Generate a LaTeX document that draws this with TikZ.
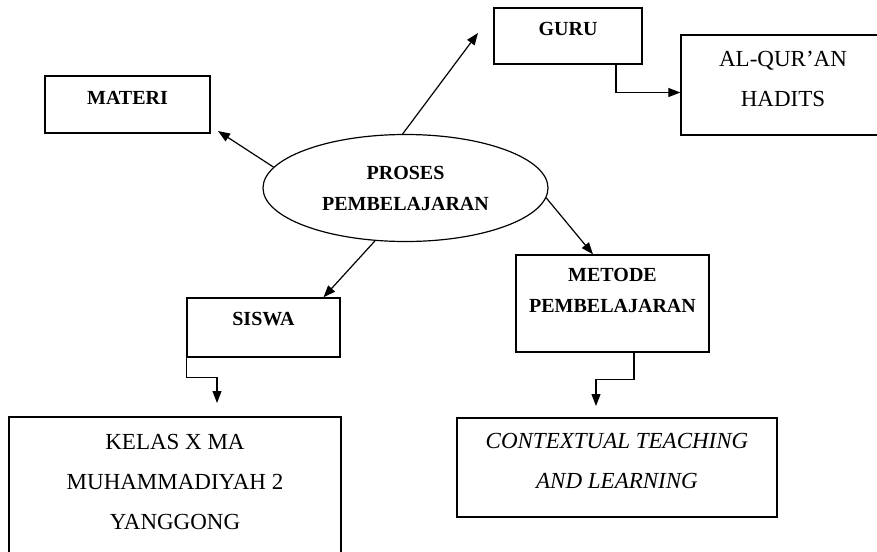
\documentclass[tikz,border=0pt]{standalone}
\usepackage{fontspec}
\setmainfont{Liberation Serif}
\usetikzlibrary{arrows.meta,positioning,shapes.geometric}
\tikzset{
  box/.style={draw, line width=1.3pt, inner sep=0pt},
  hd/.style={font=\bfseries\fontsize{20}{31}\selectfont, align=center, inner sep=0pt},
  tx/.style={font=\fontsize{23}{40}\selectfont, align=center, inner sep=0pt},
  txit/.style={tx, font=\fontsize{23}{40}\selectfont\itshape},
}
\begin{document}
\begin{tikzpicture}[x=1pt, y=-1pt, line width=1.2pt, >={Triangle[length=12pt,width=9pt]}]
      \clip (0,0) rectangle (877,551);
      \fill[white] (0,0) rectangle (877,551);
      % boxes
      \node[box, minimum width=148pt, minimum height=56pt] (guru) at (568,36) {};
      \node[box, minimum width=204pt, minimum height=100pt] (alquran) at (783,85) {};
      \node[box, minimum width=165pt, minimum height=57pt] (materi) at (127.5,104.5) {};
      \node[box, minimum width=193pt, minimum height=97pt] (metode) at (612.5,303.5) {};
      \node[box, minimum width=153pt, minimum height=59pt] (siswa) at (263.5,327.5) {};
      \node[box, minimum width=332pt, minimum height=150pt] (kelas) at (175,492) {};
      \node[box, minimum width=320pt, minimum height=99pt] (ctl) at (617,467.5) {};
      \node[ellipse, draw, hd, minimum width=285pt, minimum height=107pt] (proses) at (405.5,188) {PROSES\\PEMBELAJARAN};
      % texts
      \node[hd, below=14pt of guru.north] (gurut) {GURU};
      \node[tx, below=16pt of alquran.north] (alqurant) {AL-QUR'AN\\HADITS};
      \node[hd, below=15pt of materi.north] (materit) {MATERI};
      \node[hd, below=13pt of metode.north] (metodet) {METODE\\PEMBELAJARAN};
      \node[hd, below=14pt of siswa.north] (siswat) {SISWA};
      \node[tx, below=17pt of kelas.north] (kelast) {KELAS X MA\\MUHAMMADIYAH 2\\YANGGONG};
      \node[txit, below=15pt of ctl.north] (ctlt) {CONTEXTUAL TEACHING\\AND LEARNING};
      % free ends
      \coordinate (gurupt) at (478,33);
      \coordinate (mateript) at (218,131);
      \coordinate (kelaspt) at (217,403);
      \coordinate (ctlpt) at (596,406);
      \begin{scope}[->]
        \draw (proses.93) to (gurupt);
        \draw (proses.171) to (mateript);
        \draw (proses.-4) to ([xshift=-19.5pt]metode.north);
        \draw (proses.240) to ([xshift=60pt]siswa.north);
        \draw ([xshift=48pt]guru.south) |- ([yshift=-7.5pt]alquran.west);
        \draw (siswa.south west) -- ++(0,20) -| (kelaspt);
        \draw ([xshift=21.5pt]metode.south) -- ++(0,27) -| (ctlpt);
      \end{scope}
    \end{tikzpicture}
\end{document}
